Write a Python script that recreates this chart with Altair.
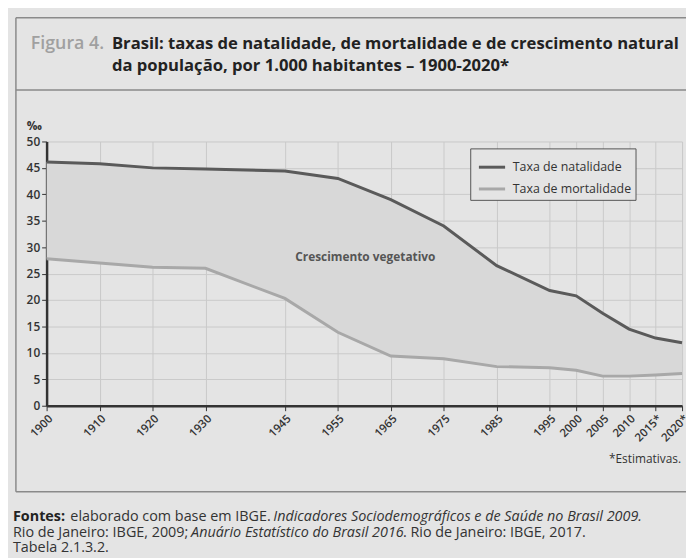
import altair as alt
import pandas as pd

anos = [1900, 1910, 1920, 1930, 1945, 1955, 1965, 1975, 1985, 1995, 2000, 2005, 2010, 2015, 2020]
natalidade = [46.1, 45.8, 45.0, 44.8, 44.4, 43.0, 39.0, 34.0, 26.5, 21.8, 20.8, 17.5, 14.5, 12.8, 11.9]
mortalidade = [27.8, 27.0, 26.2, 26.0, 20.3, 13.9, 9.4, 8.9, 7.4, 7.2, 6.7, 5.6, 5.6, 5.8, 6.1]
series = ["Taxa de natalidade", "Taxa de mortalidade"]
y_ticks = [0, 5, 10, 15, 20, 25, 30, 35, 40, 45, 50]

BG = "#e4e4e4"
FONT = "Open Sans"

wide = pd.DataFrame({"ano": anos, "nat": natalidade, "mort": mortalidade})
long = pd.concat([
    pd.DataFrame({"ano": anos, "serie": series[0], "valor": natalidade}),
    pd.DataFrame({"ano": anos, "serie": series[1], "valor": mortalidade}),
])

xscale = alt.Scale(domain=[1900, 2020], nice=False, zero=False)
yscale = alt.Scale(domain=[0, 50], nice=False)

xaxis = alt.Axis(values=anos, format="d", labelAngle=-45, labelOverlap=False,
                 labelExpr="datum.value >= 2015 ? datum.label + '*' : datum.label",
                 title=None, grid=True, gridColor="#c9c9c9", tickSize=5,
                 labelFontSize=11.5, labelColor="#333", labelFont=FONT, labelFontWeight=600,
                 domainColor="#333", domainWidth=2.5, tickColor="#333", labelPadding=2)
yaxis = alt.Axis(values=y_ticks, title=None, grid=True, gridColor="#c9c9c9", tickSize=5,
                 labelOverlap=False,
                 labelFontSize=12, labelColor="#333", labelFont=FONT, labelFontWeight=600,
                 domainColor="#333", domainWidth=2.5, tickColor="#333", labelPadding=2)

area = alt.Chart(wide).mark_area(color="#d8d8d8").encode(
    x=alt.X("ano:Q", scale=xscale, axis=xaxis),
    y=alt.Y("mort:Q", scale=yscale, axis=yaxis),
    y2="nat:Q",
)

lines = alt.Chart(long).mark_line(strokeWidth=3).encode(
    x=alt.X("ano:Q", scale=xscale, axis=xaxis),
    y=alt.Y("valor:Q", scale=yscale, axis=yaxis),
    color=alt.Color("serie:N", scale=alt.Scale(domain=series, range=["#5a5a5a", "#a8a8a8"]),
                    legend=alt.Legend(title=None, orient="none", legendX=428, legendY=7,
                                      symbolType="M-1,0L1,0", symbolStrokeWidth=3, symbolSize=700,
                                      strokeColor="#555", fillColor=BG, padding=4,
                                      labelFontSize=12.5, labelFont=FONT, labelColor="#333",
                                      rowPadding=0, symbolOffset=3, labelOffset=6)),
)


def txt(t, x, y, size=12, weight="normal", color="#222", align="left", style="normal", baseline="middle"):
    return alt.Chart(pd.DataFrame({"t": [t]})).mark_text(
        fontSize=size, fontWeight=weight, color=color, align=align, baseline=baseline,
        font=FONT, fontStyle=style,
    ).encode(x=alt.value(x), y=alt.value(y), text="t:N")


def rule(x1, x2, y1, y2, color="#8a8a8a", w=1.5):
    return alt.Chart(pd.DataFrame({"a": [0]})).mark_rule(color=color, strokeWidth=w).encode(
        x=alt.value(x1), x2=alt.value(x2), y=alt.value(y1), y2=alt.value(y2))


frame = [
    rule(-31, -31, -125, 354),
    rule(-31, 660, -125, -125),
    rule(-31, 660, -52, -52),
    rule(-31, 660, 354, 354),
]

FS = 14.5
texts = [
    txt("Figura 4.", -16, -98, size=18, color="#a0a0a0", weight=600),
    txt("Brasil: taxas de natalidade, de mortalidade e de crescimento natural", 66, -98, size=16.8, weight="bold"),
    txt("da população, por 1.000 habitantes – 1900-2020*", 66, -76, size=16.8, weight="bold"),
    txt("‰", -20, -16, size=12, weight="bold", color="#333"),
    txt("Crescimento vegetativo", 322, 117, size=12, weight="bold", color="#555", align="center"),
    txt("*Estimativas.", 641, 321, size=12, color="#333", align="right"),
    txt("Fontes:", -34, 379, size=FS, weight="bold"),
    txt("elaborado com base em IBGE.", 24, 379, size=FS, color="#333"),
    txt("Indicadores Sociodemográficos e de Saúde no Brasil 2009.", 229, 379, size=FS, color="#333", style="italic"),
    txt("Rio de Janeiro: IBGE, 2009;", -34, 396, size=FS, color="#333"),
    txt("Anuário Estatístico do Brasil 2016", 146, 396, size=FS, color="#333", style="italic"),
    txt(". Rio de Janeiro: IBGE, 2017.", 360, 396, size=FS, color="#333"),
    txt("Tabela 2.1.3.2.", -34, 411, size=FS, color="#333"),
]

chart = alt.layer(area, lines, *frame, *texts).properties(
    width=642, height=267,
    autosize=alt.AutoSizeParams(type="none"),
    padding={"left": 39, "top": 132, "right": 4, "bottom": 151},
    background=BG,
).configure_view(stroke=None, fill=BG)

chart.save("out.html", embed_options={"renderer": "svg", "actions": False})
